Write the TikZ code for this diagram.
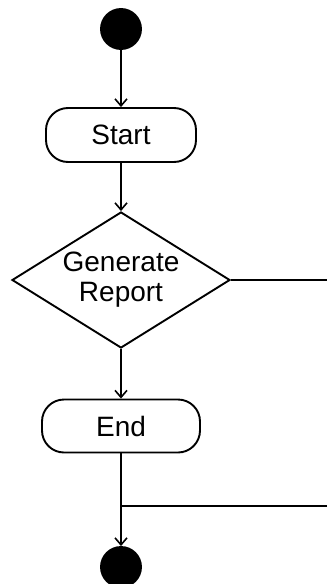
\documentclass[tikz,border=0pt]{standalone}
\usepackage{fontspec}
\setmainfont{Liberation Sans}
\usetikzlibrary{shapes.geometric,arrows.meta}
\begin{document}
\begin{tikzpicture}[x=1pt,y=-1pt,
  line width=1.9pt,
  flow/.style={-{Straight Barb[length=7pt,width=12pt,line width=1.6pt]}},
  terminal/.style={circle,fill=black,draw=black,minimum size=40pt,inner sep=0pt},
  action/.style={draw,rounded corners=22pt,inner sep=0pt,
    font=\fontsize{28}{30}\selectfont},
  decision/.style={draw,diamond,aspect=1.6,inner sep=0pt,align=center,
    font=\fontsize{28}{30}\selectfont}]
  \useasboundingbox (0,0) rectangle (327,584);
  % nodes
  \node[terminal] (init) at (121,29) {};
  \node[action,minimum width=150pt,minimum height=54pt] (start) at (121,135) {Start};
  \node[decision,minimum width=218pt,minimum height=136pt] (gen) at (121,280) {Generate\\Report};
  \node[action,minimum width=158pt,minimum height=53pt] (end) at (121,426) {End};
  \node[terminal] (final) at (121,567) {};
  % loose ends leaving the right edge
  \coordinate (out) at (327,280);
  \coordinate (back) at (327,506);
  \coordinate (join) at (121,506);
  % connectors
  \draw[flow] (init) -- (start);
  \draw[flow] (start) -- (gen);
  \draw[flow] (gen) -- (end);
  \draw[flow] (end) -- (final);
  \draw (gen.east) -- (out);
  \draw (back) -- (join);
\end{tikzpicture}
\end{document}
